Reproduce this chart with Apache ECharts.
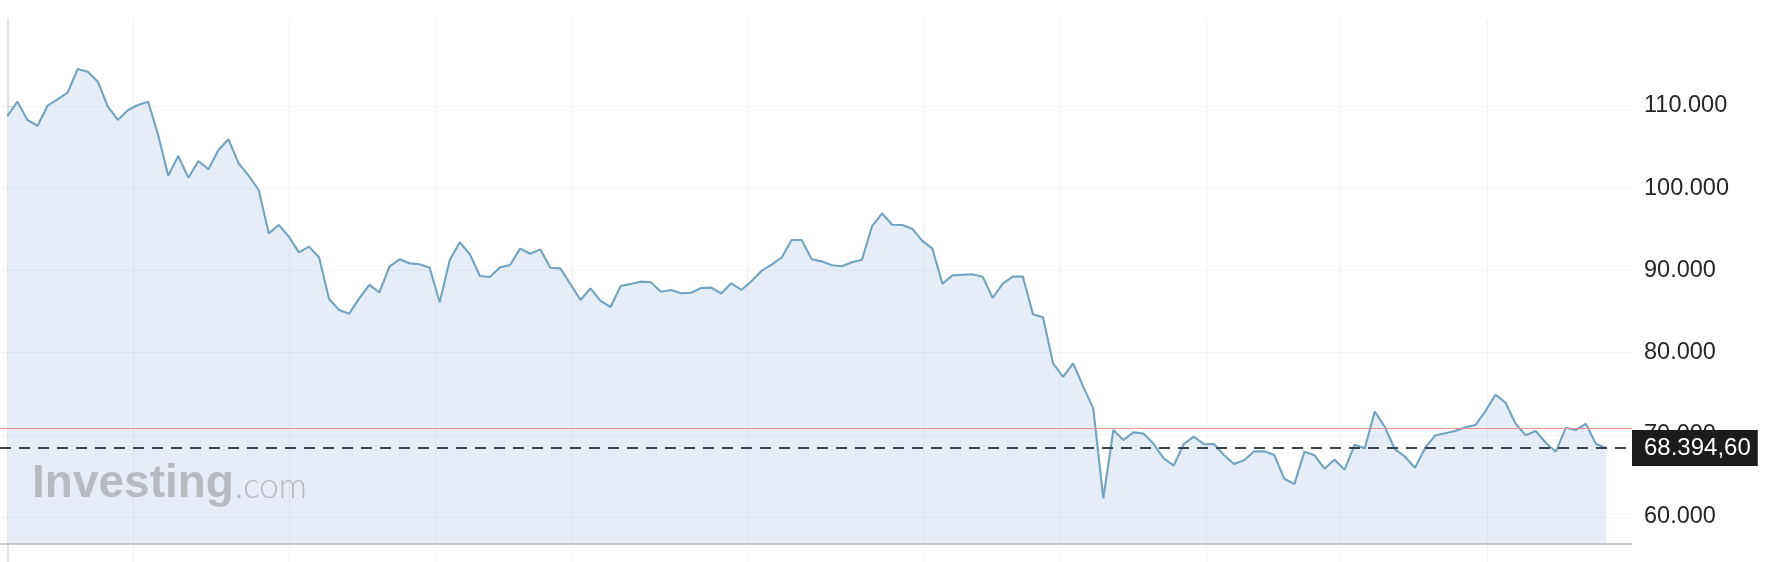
<!DOCTYPE html>
<html><head><meta charset="utf-8">
<script src="https://cdn.jsdelivr.net/npm/echarts@6/dist/echarts.min.js"></script>
<style>html,body{margin:0;padding:0;background:#fff}#c{width:1776px;height:562px}</style>
</head><body><div id="c"></div><script>
// Daily closing values (oldest -> newest)
const prices = [
  108780,110530,108300,107600,110040,110810,111620,114500,114180,112960,
  109920,108300,109510,110120,110530,106470,101530,103920,101280,103310,
  102300,104650,105950,103030,101530,99780,94510,95520,94110,92200,
  92890,91590,86520,85180,84740,86600,88230,87330,90460,91350,
  90860,90740,90330,86120,91270,93420,91960,89320,89200,90370,
  90660,92650,92020,92560,90330,90250,88350,86400,87820,86300,
  85550,88120,88350,88630,88550,87410,87620,87210,87290,87860,
  87900,87190,88430,87620,88690,89940,90700,91550,93700,93700,
  91350,91100,90620,90500,91000,91300,95380,96930,95560,95520,
  95060,93600,92650,88370,89400,89480,89540,89240,86660,88390,
  89240,89240,84680,84300,78700,77040,78700,75860,73220,62280,
  70585,69370,70300,70150,68900,67140,66240,68880,69770,68860,
  68880,67540,66450,66900,67990,67990,67540,64650,64000,67950,
  67500,65880,66980,65760,68800,68360,72820,70950,68240,67340,
  66000,68400,69920,70180,70460,70910,71190,72880,74880,73910,
  71340,69940,70460,69040,67950,70870,70590,71320,68880,68394.60
];
const yTickValues = [60000, 70000, 80000, 90000, 100000, 110000];
const currentPrice = 68394.60;
const refLevel = 70850;
const axisFloor = 56717;
const vGridAt = [12.5, 28.0, 42.6, 56.2, 73.6, 91.1, 104.6, 119.2, 132.6, 147.2];

function thousands(n) { return String(n).replace(/\B(?=(\d{3})+(?!\d))/g, '.'); }
function fmtTick(v) { return thousands(Math.round(v)); }
function fmtPrice(v) {
  const parts = v.toFixed(2).split('.');
  return thousands(parts[0]) + ',' + parts[1];
}

const seriesData = prices.map((v, i) => [i, v]);

const gridStyleH = { color: 'rgba(150,160,175,0.10)', width: 1, type: 'solid' };
const gridStyleV = { color: 'rgba(150,160,175,0.13)', width: 1, type: 'solid' };

const markData = [];
yTickValues.forEach(t => markData.push({ yAxis: t, lineStyle: gridStyleH }));
vGridAt.forEach(x => markData.push({ xAxis: x, lineStyle: gridStyleV }));
markData.push({ yAxis: axisFloor, lineStyle: { color: '#c8c8c8', width: 2, type: 'solid' } });
markData.push({ yAxis: refLevel, lineStyle: { color: '#ee8e8e', width: 1, type: 'solid' } });
markData.push({
  yAxis: currentPrice,
  lineStyle: { color: '#3a434e', width: 2, type: [11, 8] },
  label: {
    show: true, position: 'end', distance: 0,
    formatter: () => fmtPrice(currentPrice),
    backgroundColor: '#1c1c1c', color: '#ffffff',
    padding: [6, 7, 6, 12], fontSize: 24, fontFamily: 'Liberation Sans'
  }
});

const chart = echarts.init(document.getElementById('c'), null, { renderer: 'canvas' });
chart.setOption({
  animation: false,
  backgroundColor: '#ffffff',
  grid: { left: 0, right: 144, top: 19, bottom: 0, containLabel: false },
  xAxis: {
    type: 'value', min: -0.73, max: 161.58,
    show: false
  },
  yAxis: {
    type: 'value', position: 'right', min: 54527, max: 120584,
    axisLine: { show: true, lineStyle: { color: '#e2e2e2', width: 2 } },
    axisTick: { show: true, customValues: yTickValues, length: 7, lineStyle: { color: '#cfcfcf', width: 1 } },
    axisLabel: {
      show: true, customValues: yTickValues, formatter: fmtTick,
      color: '#262626', fontSize: 23.5, fontFamily: 'Liberation Sans', margin: 12
    },
    splitLine: { show: false }
  },
  graphic: [
    { type: 'text', left: 32, top: 461, z: 100,
      style: { text: 'Investing', font: 'bold 46px "Liberation Sans"', fill: '#b7bac1' } },
    { type: 'text', left: 235, top: 469, z: 100,
      style: { text: '.com', font: '300 35px Lato', fill: '#b6b9c0' } }
  ],
  series: [{
    type: 'line',
    data: seriesData,
    symbol: 'none',
    lineStyle: { color: '#74a2c0', width: 2.1 },
    areaStyle: { color: '#e7edf6', opacity: 1, origin: axisFloor },
    itemStyle: { color: '#74a2c0' },
    markLine: {
      silent: true, symbol: ['none', 'none'], animation: false,
      label: { show: false },
      data: markData
    }
  }]
});
</script></body></html>
